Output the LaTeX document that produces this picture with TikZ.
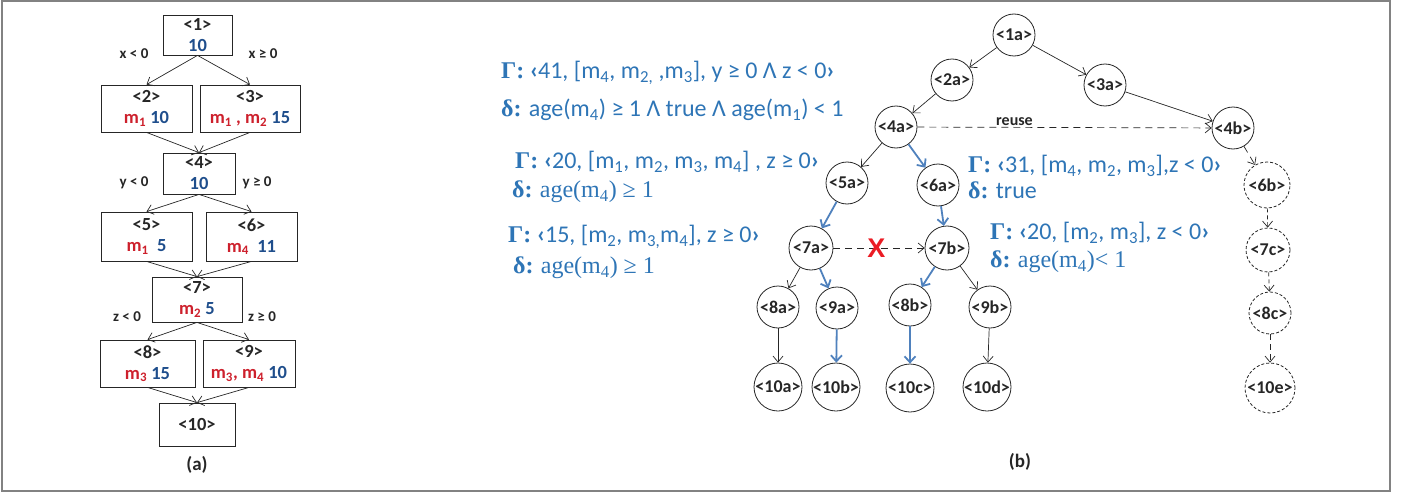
\documentclass[tikz,border=0pt]{standalone}
\usepackage{fontspec}
\setmainfont{Carlito}
\newfontfamily\tms{Liberation Serif}
\newfontfamily\hsans{Liberation Sans}
\usetikzlibrary{arrows.meta}
\definecolor{dk}{RGB}{38,38,38}
\definecolor{nb}{RGB}{31,78,140}
\definecolor{mr}{RGB}{205,32,44}
\definecolor{ab}{RGB}{46,117,182}
\definecolor{eb}{RGB}{79,129,189}
\definecolor{xr}{RGB}{235,28,36}
\definecolor{fr}{RGB}{130,130,130}
\newcommand\nbl[1]{\textcolor{nb}{#1}}
\newcommand\mre[1]{\textcolor{mr}{m\textsubscript{#1}}}
\newcommand\GG{{\tms\bfseries Γ:}}
\newcommand\DD{{\tms\bfseries δ:}}
\newcommand\sbs[1]{\textsubscript{#1}}
\newcommand\lgu{\textbf{‹}}
\newcommand\rgu{\textbf{›}}
\begin{document}
\begin{tikzpicture}[x=1pt,y=-1pt,
  abox/.style={draw=dk, line width=0.8pt, align=center, inner sep=0pt, text=dk,
    font=\fontsize{18.5}{21}\selectfont\bfseries},
  clab/.style={text=dk, font=\fontsize{15}{15}\selectfont\bfseries, inner sep=0pt},
  arr/.style={draw=dk, line width=0.7pt, -{Straight Barb[length=6pt,width=10pt]}},
  barr/.style={draw=eb, line width=1.8pt, -{Straight Barb[length=6pt,width=11pt]}},
  darr/.style={draw=dk, line width=0.7pt, dash pattern=on 7pt off 5pt, -{Straight Barb[length=6pt,width=10pt]}},
  tn/.style={circle, draw=dk, line width=0.8pt, inner sep=0pt, minimum size=42pt, text=dk,
    font=\fontsize{18}{18}\selectfont\bfseries},
  dn/.style={tn, dash pattern=on 3pt off 2pt},
  ann/.style={anchor=west, text=ab, inner sep=0pt, font=\fontsize{24}{24}\selectfont},
  capt/.style={text=dk, font=\fontsize{19}{19}\selectfont\bfseries}
]
\useasboundingbox (0,0) rectangle (1408,495);
\draw[fr, line width=1.5pt] (2,1) rectangle (1390,491);

% ---------- (a) ----------
\node[abox, minimum width=69pt, minimum height=40pt] (b1) at (197.5,35) {<1>\\\nbl{10}};
\node[abox, minimum width=91pt, minimum height=47pt] (b2) at (146.5,108.5) {<2>\\\mre{1} \nbl{10}};
\node[abox, minimum width=100pt, minimum height=47pt] (b3) at (250,108.5) {<3>\\\mre{1}\textcolor{mr}{\ , }\mre{2} \nbl{15}};
\node[abox, minimum width=72pt, minimum height=41pt] (b4) at (199,173.5) {<4>\\\nbl{10}};
\node[abox, minimum width=91pt, minimum height=49pt] (b5) at (146.5,236.5) {<5>\\\mre{1}\ \ \nbl{5}};
\node[abox, minimum width=91pt, minimum height=49pt] (b6) at (251.5,236.5) {<6>\\\mre{4}\ \ \nbl{11}};
\node[abox, minimum width=90pt, minimum height=45pt] (b7) at (197,299.5) {<7>\\\mre{2} \nbl{5}};
\node[abox, minimum width=95pt, minimum height=47pt] (b8) at (147.5,363.5) {<8>\\\mre{3} \nbl{15}};
\node[abox, minimum width=92pt, minimum height=47pt] (b9) at (249,363.5) {<9>\\\mre{3}\textcolor{mr}{, }\mre{4} \nbl{10}};
\node[abox, minimum width=76pt, minimum height=43pt] (b10) at (197,424.5) {<10>};

\node[clab] (lx1) at (134,54) {x < 0};
\node[clab] (lx2) at (263,54) {x ≥ 0};
\node[clab] (ly1) at (134,183) {y < 0};
\node[clab] (ly2) at (257,183) {y ≥ 0};
\node[clab] (lz1) at (127,317) {z < 0};
\node[clab] (lz2) at (262,317) {z ≥ 0};

\draw[arr] (b1.south) -- (b2.north);
\draw[arr] (b1.south) -- (b3.north);
\draw[arr] (b2.south) -- (b4.north);
\draw[arr] (b3.south) -- (b4.north);
\draw[arr] (b4.south) -- (b5.north);
\draw[arr] (b4.south) -- (b6.north);
\draw[arr] (b5.south) -- (b7.north);
\draw[arr] (b6.south) -- (b7.north);
\draw[arr] (b7.south) -- (b8.north);
\draw[arr] (b7.south) -- (b9.north);
\draw[arr] (b8.south) -- (b10.north);
\draw[arr] (b9.south) -- (b10.north);
\node[capt] (capa) at (197,465) {(a)};

% ---------- (b) ----------
\node[tn] (n1a) at (1014,35) {<1a>};
\node[tn] (n2a) at (952,80) {<2a>};
\node[tn] (n3a) at (1105,85) {<3a>};
\node[tn] (n4a) at (896,127) {<4a>};
\node[tn] (n4b) at (1233,128) {<4b>};
\node[tn] (n5a) at (847,183) {<5a>};
\node[tn] (n6a) at (938,185) {<6a>};
\node[tn, minimum size=44pt] (n7a) at (811,248) {<7a>};
\node[tn, minimum size=44pt] (n7b) at (947,248) {<7b>};
\node[tn] (n8a) at (778,307) {<8a>};
\node[tn] (n9a) at (837,308) {<9a>};
\node[tn] (n8b) at (910,305) {<8b>};
\node[tn] (n9b) at (990,307) {<9b>};
\node[tn, minimum size=48pt] (n10a) at (778,387) {<10a>};
\node[tn, minimum size=48pt] (n10b) at (836,387) {<10b>};
\node[tn, minimum size=48pt] (n10c) at (910,388) {<10c>};
\node[tn, minimum size=48pt] (n10d) at (987,387) {<10d>};
\node[dn, minimum size=46pt] (n6b) at (1267,185) {<6b>};
\node[dn, minimum size=44pt] (n7c) at (1268,250) {<7c>};
\node[dn, minimum size=42pt] (n8c) at (1270,313) {<8c>};
\node[dn, minimum size=50pt] (n10e) at (1270,388) {<10e>};

\draw[arr] (n1a) -- (n2a);
\draw[arr] (n1a) -- (n3a);
\draw[arr] (n2a) -- (n4a);
\draw[arr] (n3a) -- (n4b);
\draw[arr] (n4a) -- (n5a);
\draw[barr] (n4a) -- (n6a);
\draw[darr] (n4a) -- node[pos=0.33, above=1pt, text=dk, font=\fontsize{16}{16}\selectfont\bfseries, inner sep=0pt] (reuse) {reuse} (n4b);
\draw[darr] (n4b) -- (n6b);
\draw[darr, dash pattern=on 4pt off 3pt] (n6b) -- (n7c);
\draw[darr, dash pattern=on 4pt off 3pt] (n7c) -- (n8c);
\draw[darr, dash pattern=on 6pt off 4pt] (n8c) -- (n10e);
\draw[barr] (n5a) -- (n7a);
\draw[barr] (n6a) -- (n7b);
\draw[darr] (n7a) -- node[pos=0.47, text=xr, font=\hsans\fontsize{27}{27}\selectfont\bfseries, inner sep=0pt] (xx) {X} (n7b);
\draw[arr] (n7a) -- (n8a);
\draw[barr] (n7a) -- (n9a);
\draw[barr] (n7b) -- (n8b);
\draw[arr] (n7b) -- (n9b);
\draw[arr] (n8a) -- (n10a);
\draw[barr] (n9a) -- (n10b);
\draw[barr] (n8b) -- (n10c);
\draw[arr] (n9b) -- (n10d);

% annotations
\node[ann] (g1) at (501,73) {\GG{} \lgu41, [m\sbs{4}, m\sbs{2,} ,m\sbs{3}], y ≥ 0 Λ z < 0\rgu};
\node[ann] (d1) at (501,110) {\DD{} age(m\sbs{4}) ≥ 1 Λ true Λ age(m\sbs{1}) < 1};
\node[ann] (g2) at (515,162) {\GG{} \lgu20, [m\sbs{1}, m\sbs{2}, m\sbs{3}, m\sbs{4}] , z ≥ 0\rgu};
\node[ann] (d2) at (512,192) {\DD{} {\tms age(m\sbs{4}) ≥ 1}};
\node[ann] (g3) at (508,237) {\GG{} \lgu15, [m\sbs{2}, m\sbs{3,}m\sbs{4}], z ≥ 0\rgu};
\node[ann] (d3) at (513,268) {\DD{} {\tms age(m\sbs{4}) ≥ 1}};
\node[ann] (g4) at (968,166) {\GG{} \lgu31, [m\sbs{4}, m\sbs{2}, m\sbs{3}],z < 0\rgu};
\node[ann] (d4) at (968,190) {\DD{} true};
\node[ann] (g5) at (990,233) {\GG{} \lgu20, [m\sbs{2}, m\sbs{3}], z < 0\rgu};
\node[ann] (d5) at (990,262) {\DD{} {\tms age(m\sbs{4})< 1}};

\node[capt] (capb) at (1020,462) {(b)};
\end{tikzpicture}
\end{document}
